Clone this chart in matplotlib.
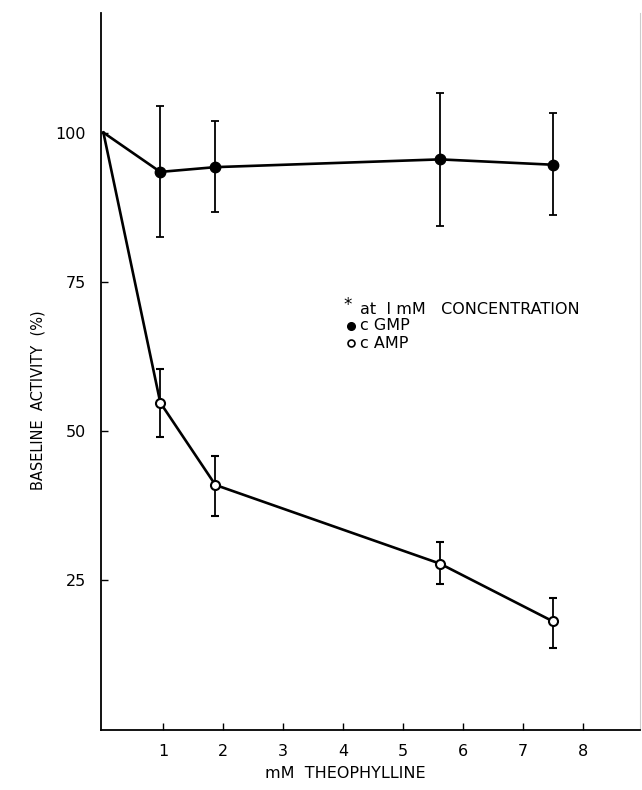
import matplotlib.pyplot as plt
import numpy as np

# theophylline concentration (mM)
conc = [0, 0.95, 1.87, 5.62, 7.51]

# cGMP (filled circles) and cAMP (open circles), % of baseline
cgmp = [100, 93.4, 94.2, 95.5, 94.6]
cgmp_err_lo = [0, 10.9, 7.6, 11.1, 8.4]
cgmp_err_hi = [0, 11.1, 7.8, 11.1, 8.6]

camp = [100, 54.7, 40.9, 27.7, 18.0]
camp_err_lo = [0, 5.8, 5.2, 3.4, 4.4]
camp_err_hi = [0, 5.7, 4.8, 3.6, 3.9]

x_ticks = [1, 2, 3, 4, 5, 6, 7, 8]
y_ticks = [25, 50, 75, 100]
legend_lines = ["at  I mM   CONCENTRATION", "c GMP", "c AMP"]


def main():
    plt.rcParams['font.family'] = ['DejaVu Sans']
    fig = plt.figure(figsize=(6.42, 7.90), dpi=100)
    ax = fig.add_axes([101 / 642, 1 - 730 / 790, 539 / 642, (730 - 13.3) / 790])

    # lines from the origin point, markers only on measured points
    ax.plot(conc, cgmp, color='black', lw=1.9, zorder=2)
    ax.plot(conc, camp, color='black', lw=1.9, zorder=2)

    ax.errorbar(conc[1:], cgmp[1:], yerr=[cgmp_err_lo[1:], cgmp_err_hi[1:]],
                fmt='o', ms=7.5, color='black', ecolor='black', elinewidth=1.3,
                capsize=3, capthick=1.3, zorder=3)
    ax.errorbar(conc[1:], camp[1:], yerr=[camp_err_lo[1:], camp_err_hi[1:]],
                fmt='o', ms=6.5, mfc='white', mec='black', mew=1.5,
                ecolor='black', elinewidth=1.3, capsize=3, capthick=1.3,
                zorder=3)

    ax.set_xlim(-0.04, 8.96)
    ax.set_ylim(-0.2, 120)
    ax.set_xticks(x_ticks)
    ax.set_yticks(y_ticks)
    ax.tick_params(direction='in', length=5, width=1, labelsize=11.5)
    ax.tick_params(axis='x', pad=10)
    ax.tick_params(axis='y', pad=11)

    ax.spines['top'].set_visible(False)
    ax.spines['right'].set_color('#cccccc')
    ax.spines['right'].set_linewidth(0.8)
    ax.spines['left'].set_linewidth(1.3)
    ax.spines['bottom'].set_linewidth(1.3)

    fig.text(38 / 642, 1 - 400 / 790, "BASELINE  ACTIVITY  (%)", rotation=90,
             ha='center', va='center', fontsize=10.5)
    fig.text(345 / 642, 1 - 773 / 790, "mM  THEOPHYLLINE", ha='center',
             va='center', fontsize=11.5)

    # legend drawn as text with marker symbols
    fig.text(348 / 642, 1 - 305 / 790, "*", ha='center', va='center',
             fontsize=12)
    fig.text(360 / 642, 1 - 309 / 790, legend_lines[0], ha='left',
             va='center', fontsize=11.5)
    fig.text(360 / 642, 1 - 326 / 790, legend_lines[1], ha='left',
             va='center', fontsize=11.5)
    fig.text(360 / 642, 1 - 343 / 790, legend_lines[2], ha='left',
             va='center', fontsize=11.5)
    ax.plot([351 / 642], [1 - 326 / 790], 'o', ms=5.5, color='black',
            transform=fig.transFigure, clip_on=False)
    ax.plot([351 / 642], [1 - 343 / 790], 'o', ms=5, mfc='white',
            mec='black', mew=1.2, transform=fig.transFigure, clip_on=False)

    fig.savefig("out.png", dpi=100)


if __name__ == "__main__":
    main()
